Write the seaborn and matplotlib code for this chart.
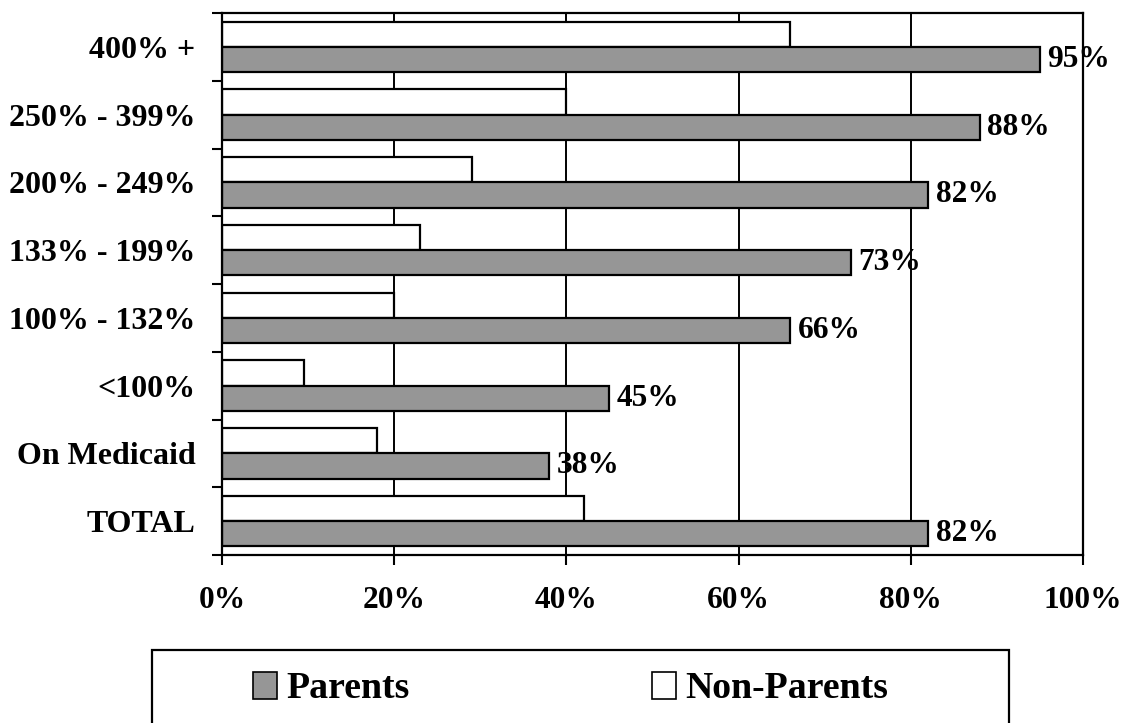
import numpy as np
import pandas as pd
import matplotlib
matplotlib.use("Agg")
import matplotlib.pyplot as plt
from matplotlib.patches import Patch, Rectangle
from matplotlib.ticker import FixedLocator
import seaborn as sns

# Share of people with coverage, by income group (percent of poverty level)
categories = ["400% +", "250% - 399%", "200% - 249%", "133% - 199%",
              "100% - 132%", "<100%", "On Medicaid", "TOTAL"]
parents = [95, 88, 82, 73, 66, 45, 38, 82]
non_parents = [66, 40, 29, 23, 20, 9.5, 18, 42]
x_ticks = [0, 20, 40, 60, 80, 100]
x_tick_labels = ["0%", "20%", "40%", "60%", "80%", "100%"]
series_names = ["Parents", "Non-Parents"]

sns.set_style("white")
plt.rcParams["font.family"] = ["Liberation Serif", "DejaVu Serif"]
plt.rcParams["font.weight"] = "bold"
plt.rcParams["text.color"] = "black"
plt.rcParams["xtick.color"] = "black"
plt.rcParams["ytick.color"] = "black"
plt.rcParams["xtick.labelcolor"] = "black"
plt.rcParams["ytick.labelcolor"] = "black"

df = pd.DataFrame({
    "group": categories * 2,
    "value": non_parents + parents,
    "series": ["Non-Parents"] * len(categories) + ["Parents"] * len(categories),
})

W, H = 1127, 723
fig = plt.figure(figsize=(W / 100, H / 100), dpi=100)
ax = fig.add_axes([222 / W, 1 - 555 / H, (1083 - 222) / W, (555 - 13) / H])

colors = {"Parents": "#969696", "Non-Parents": "#ffffff"}
sns.barplot(data=df, y="group", x="value", hue="series",
            hue_order=["Non-Parents", "Parents"], order=categories,
            palette=colors, edgecolor="black", linewidth=1.6,
            width=0.745, saturation=1, orient="h", legend=False, ax=ax)

# value labels on the Parents bars
parent_bars = ax.containers[1]
ax.bar_label(parent_bars, labels=[f"{v}%" for v in parents], padding=5.5,
             fontsize=22.6, fontweight="bold", color="black")

ax.set_xlim(0, 100)
ax.set_ylim(len(categories) - 0.5, -0.5)
ax.set_xticks(x_ticks)
ax.set_xticklabels(x_tick_labels, fontsize=22.6, fontweight="bold")
ax.set_yticks(range(len(categories)))
ax.set_yticklabels(categories, fontsize=23, fontweight="bold")
ax.yaxis.set_minor_locator(FixedLocator(np.arange(-0.5, len(categories), 1.0)))
ax.tick_params(axis="y", which="major", length=0, pad=19)
ax.tick_params(axis="y", which="minor", length=7.5, width=1.5, color="black",
               direction="out", left=True)
ax.tick_params(axis="x", which="major", length=7.5, width=1.5, color="black",
               direction="out", bottom=True, pad=15)
ax.set_xlabel("")
ax.set_ylabel("")

ax.xaxis.grid(True, color="black", linewidth=1.4)
ax.yaxis.grid(False)
ax.set_axisbelow(True)
for sp in ax.spines.values():
    sp.set_visible(True)
    sp.set_color("black")
    sp.set_linewidth(1.6)

# legend box below the chart
frame = Rectangle((152 / W, 1 - 735 / H), (1009 - 152) / W, (735 - 650) / H,
                  transform=fig.transFigure, facecolor="white",
                  edgecolor="black", linewidth=1.6, zorder=0)
fig.patches.append(frame)
handles = [Patch(facecolor=colors[n], edgecolor="black", linewidth=1.2)
           for n in series_names]
fig.legend(handles, series_names, ncol=2, loc="center left",
           bbox_to_anchor=(253 / W, 1 - 689 / H), frameon=False,
           prop={"size": 27.2, "weight": "bold"}, labelcolor="black",
           handlelength=0.64, handleheight=0.7, handletextpad=0.24,
           columnspacing=6.42, borderpad=0, borderaxespad=0)

fig.savefig("out.png", dpi=100)
